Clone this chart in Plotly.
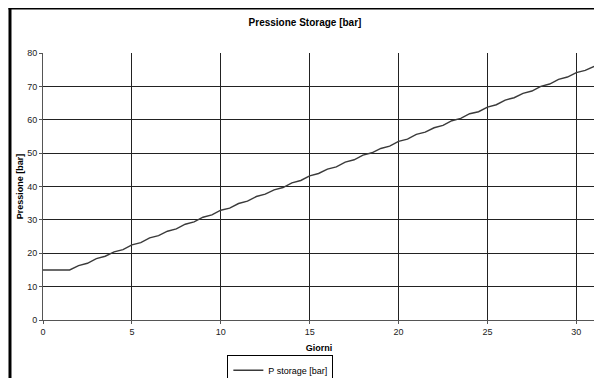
import plotly.graph_objects as go

giorni = [i * 0.5 for i in range(63)]
p_storage = [15.0, 15.0, 15.0, 15.0, 16.3, 17.0, 18.4, 19.1, 20.4, 21.1,
             22.5, 23.2, 24.6, 25.3, 26.6, 27.3, 28.7, 29.4, 30.8, 31.5,
             32.9, 33.5, 34.9, 35.6, 37.0, 37.7, 39.0, 39.7, 41.1, 41.8,
             43.2, 43.9, 45.2, 45.9, 47.3, 48.0, 49.4, 50.1, 51.4, 52.1,
             53.5, 54.2, 55.6, 56.3, 57.6, 58.3, 59.7, 60.4, 61.8, 62.4,
             63.8, 64.5, 65.9, 66.6, 67.9, 68.6, 70.0, 70.7, 72.1, 72.8,
             74.1, 74.8, 76.0]
x_ticks = [0, 5, 10, 15, 20, 25, 30]
y_ticks = [0, 10, 20, 30, 40, 50, 60, 70, 80]

FONT = "Liberation Sans, Arial, sans-serif"

fig = go.Figure()
fig.add_trace(go.Scatter(x=giorni, y=p_storage, mode="lines",
                         name="P storage [bar]",
                         line=dict(color="#3a3a3a", width=1.4)))

fig.update_layout(
    width=594, height=370,
    margin=dict(l=35, r=7, t=45, b=58, autoexpand=False),
    paper_bgcolor="white", plot_bgcolor="white",
    font=dict(family=FONT, size=9, color="black"),
    title=dict(text="<b>Pressione Storage [bar]</b>", x=0.5, xanchor="center",
               y=1 - 14 / 370, yanchor="middle", font=dict(size=10, family=FONT)),
    showlegend=True,
    legend=dict(x=0.43, xanchor="center", y=-0.13, yanchor="top",
                orientation="h", bordercolor="black", borderwidth=1,
                bgcolor="white", font=dict(size=9, family=FONT),
                itemwidth=30, tracegroupgap=0),
    xaxis=dict(range=[0, 31.05], tickvals=x_ticks, showgrid=True, automargin=False,
               gridcolor="#222222", gridwidth=1, zeroline=False,
               showline=True, linecolor="#555555", linewidth=1,
               ticks="outside", ticklen=3, tickcolor="#555555",
               title=dict(text="<b>Giorni</b>", font=dict(size=9), standoff=8),
               tickfont=dict(size=9, color="#222222")),
    yaxis=dict(range=[0, 80], tickvals=y_ticks, showgrid=True, automargin=False,
               gridcolor="#222222", gridwidth=1, zeroline=False,
               showline=True, linecolor="#555555", linewidth=1,
               ticks="outside", ticklen=3, tickcolor="#555555",
               title=dict(text="<b>Pressione [bar]</b>", font=dict(size=9), standoff=2),
               tickfont=dict(size=9, color="#222222")),
)

# outer chart border (left and top edges visible)
fig.add_shape(type="line", xref="paper", yref="paper",
              x0=-0.0598, x1=-0.0598, y0=1.1685, y1=-0.217,
              line=dict(color="black", width=3))
fig.add_shape(type="line", xref="paper", yref="paper",
              x0=-0.0625, x1=1.0127, y0=1.1685, y1=1.1685,
              line=dict(color="black", width=3))

fig.write_html("out.html")
